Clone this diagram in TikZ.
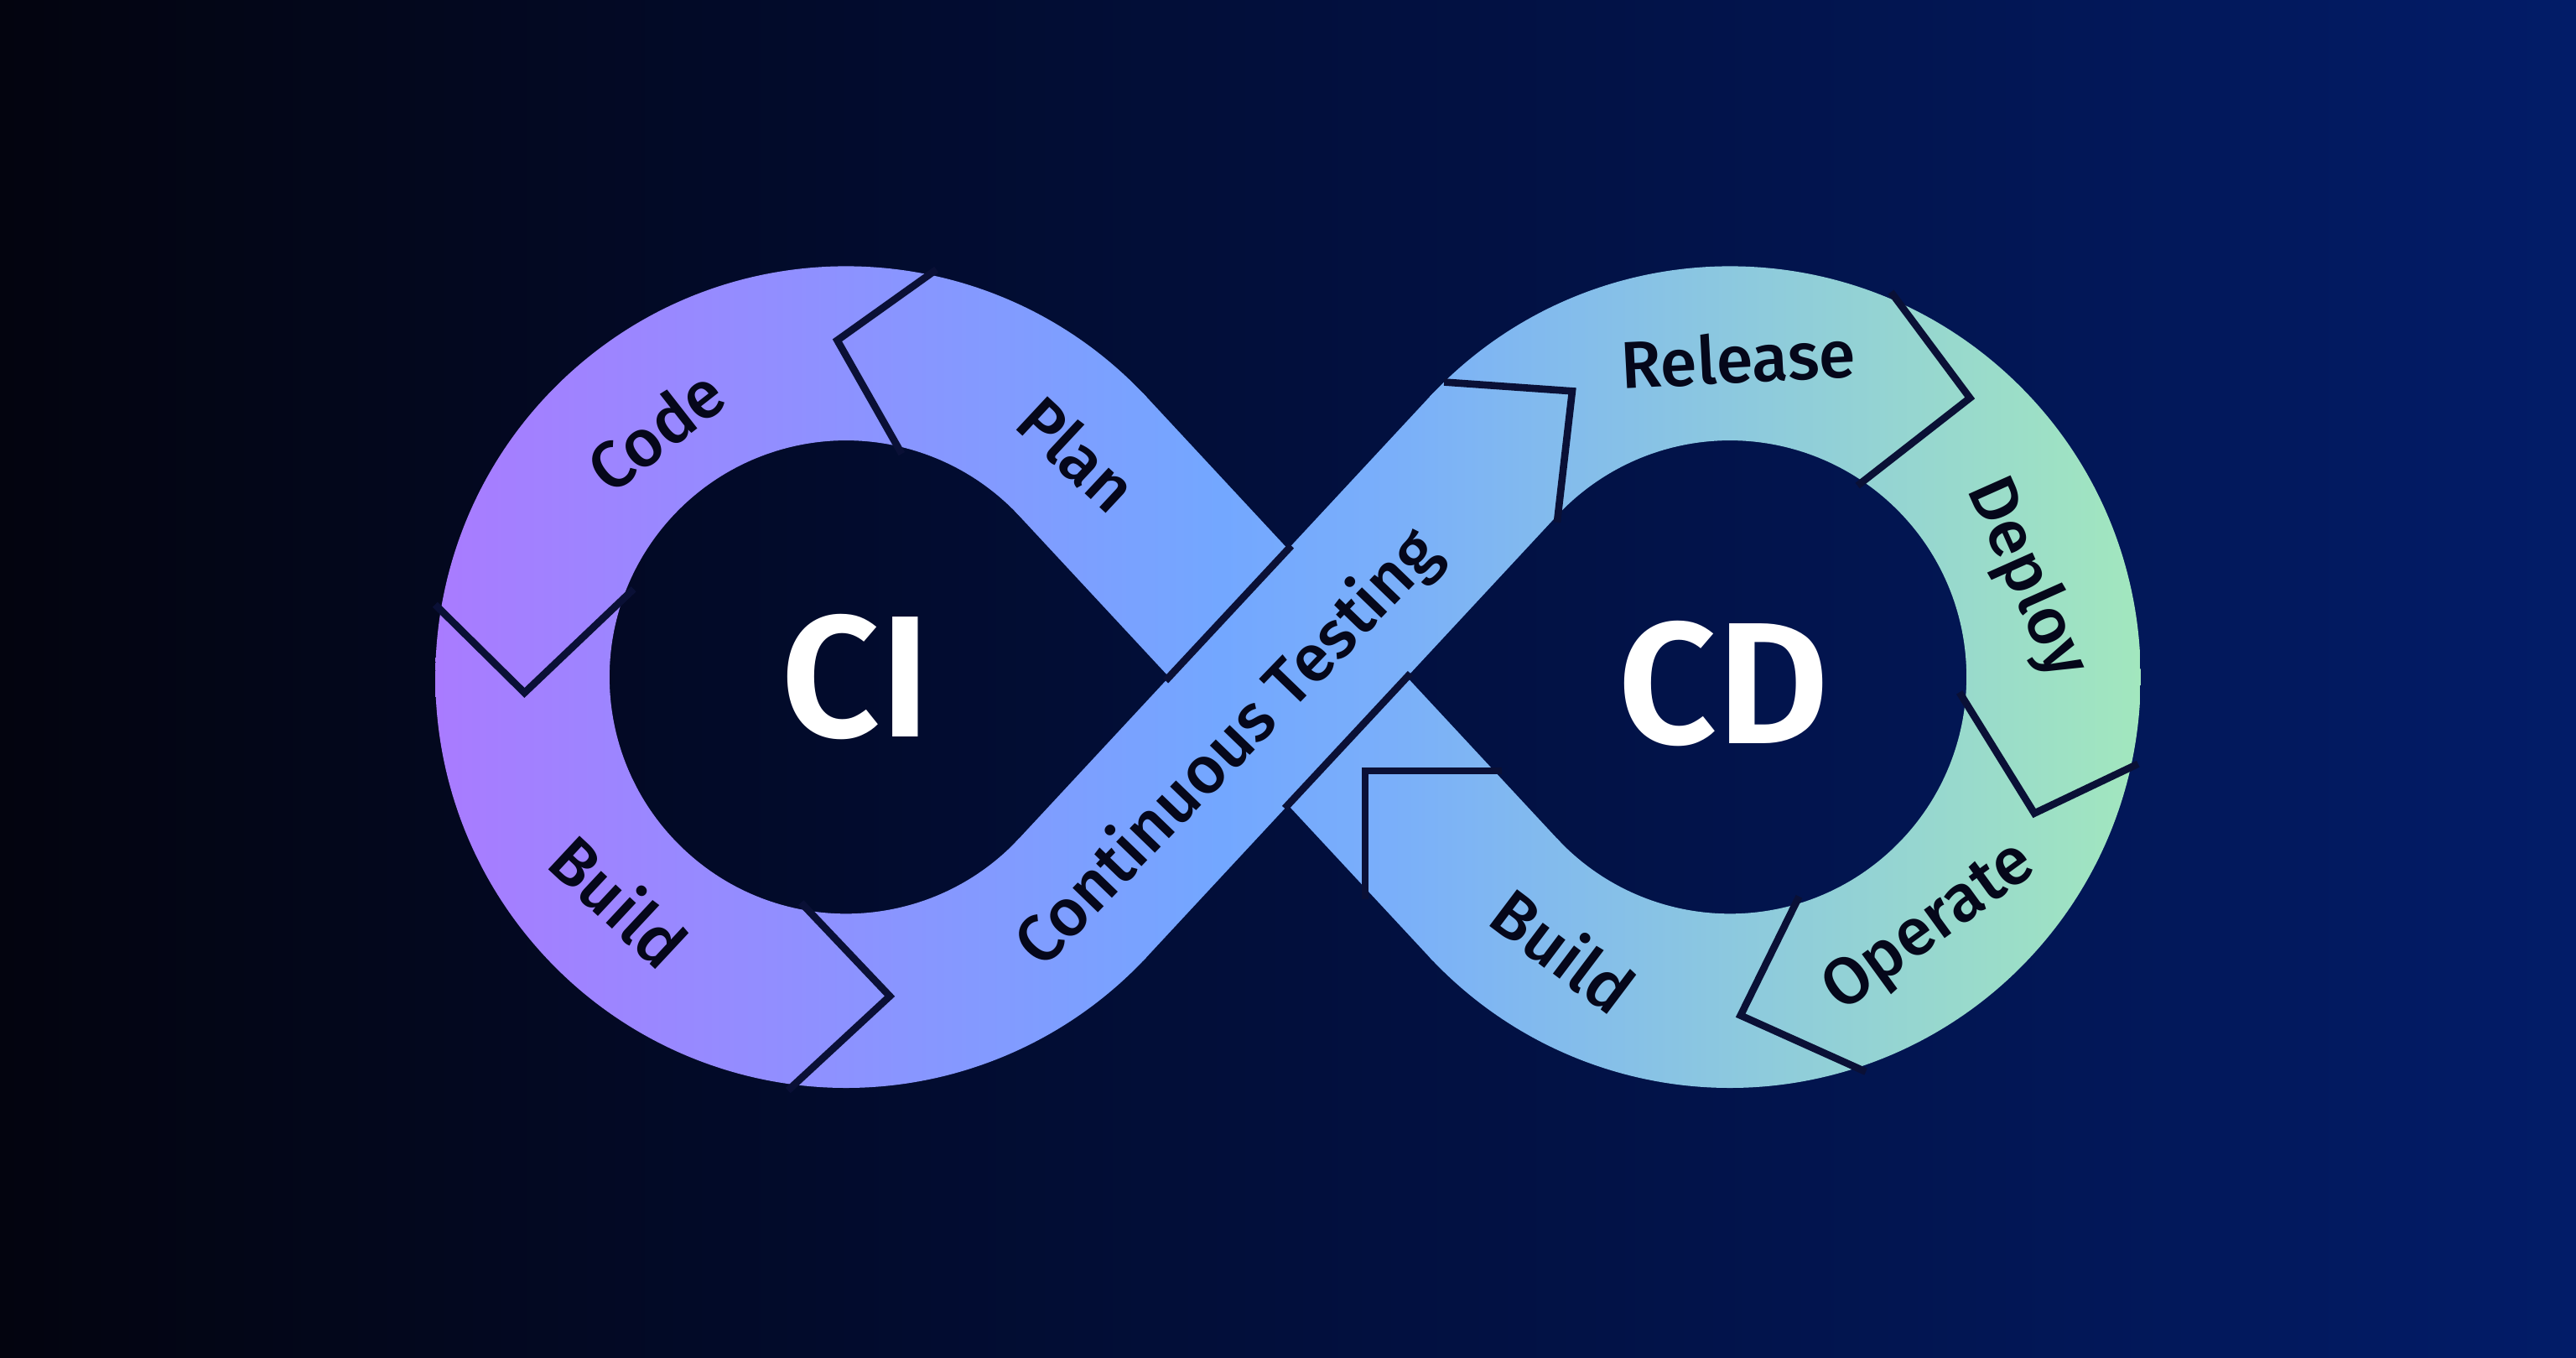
\documentclass[tikz,border=0pt]{standalone}
\usepackage{fontspec}
\newfontfamily\labfont{Fira Sans Medium}
\newfontfamily\bigfont{Fira Sans SemiBold}
\usetikzlibrary{calc}
\definecolor{bgL}{HTML}{03040F}
\definecolor{bgM}{HTML}{020F3C}
\definecolor{bgR}{HTML}{021C68}
\definecolor{cP}{HTML}{A97BFF}
\definecolor{cB}{HTML}{73A7FF}
\definecolor{cBB}{HTML}{7AAFFA}
\definecolor{cG}{HTML}{A2E7BE}
\definecolor{sep}{HTML}{0A1036}
\definecolor{ink}{HTML}{05071A}
\pgfdeclarehorizontalshading{bgshade}{100bp}{color(0bp)=(bgL); color(25bp)=(bgL); color(50bp)=(bgM); color(75bp)=(bgR); color(100bp)=(bgR)}
\pgfdeclarehorizontalshading{bandshade}{100bp}{color(0bp)=(cP); color(25bp)=(cP); color(48bp)=(cB); color(53bp)=(cBB); color(75bp)=(cG); color(100bp)=(cG)}
\newcommand\bandfill[1]{\begin{scope}\clip #1; \shade[shading=bandshade] (265,162) rectangle (1303,662);\end{scope}}
\tikzset{
  sepline/.style={draw=sep, line width=2.5pt, line join=miter, line cap=butt},
  lab/.style={font=\labfont\fontsize{23}{27}\selectfont, text=ink, inner sep=0pt},
  big/.style={font=\bigfont\fontsize{60}{70}\selectfont, text=white, inner sep=0pt},
}
\begin{document}
\begin{tikzpicture}[x=0.02cm,y=-0.02cm]
\useasboundingbox (0,0) rectangle (1568,826);
\shade[shading=bgshade] (0,0) rectangle (1568,826);
\coordinate (L) at (515,412);
\coordinate (R) at (1053,412);
\coordinate (X) at (784,412);
% left loop
\bandfill{($(L)+(-43:250)$) arc[start angle=-43,end angle=-317,radius=250] -- ($(L)+(-317:144)$) arc[start angle=-317,end angle=-43,radius=144] -- cycle}
% right loop
\bandfill{($(R)+(223:250)$) arc[start angle=223,end angle=497,radius=250] -- ($(R)+(497:144)$) arc[start angle=497,end angle=223,radius=144] -- cycle}
% band Plan -> Build (right)
\bandfill{($(L)+(-43:250)+(227:3)$) -- ($(R)+(137:144)+(47:3)$) -- ($(R)+(137:250)+(47:3)$) -- ($(L)+(-43:144)+(227:3)$) -- cycle}
% band Continuous Testing
\bandfill{($(L)+(43:250)+(133:3)$) -- ($(R)+(223:144)+(-47:3)$) -- ($(R)+(223:250)+(-47:3)$) -- ($(L)+(43:144)+(133:3)$) -- cycle}
% separators
\draw[sepline] ($(L)+(-77.5:254)$) -- ($(L)+(-91.5:205)$) -- ($(L)+(-76:140)$);
\draw[sepline] ($(L)+(-170:254)$) -- ($(L)+(177.2:196)$) -- ($(L)+(-157.5:140)$);
\draw[sepline] ($(L)+(98:254)$) -- ($(L)+(82.2:196)$) -- ($(L)+(101.3:140)$);
\coordinate (ctA) at (879,232.5);
\coordinate (ctB) at (957,238);
\coordinate (ctC) at (947.8,317.8);
\draw[sepline] (ctA) -- (ctB) -- (ctC);
\draw[sepline] ($(R)+(-67.3:254)$) -- ($(R)+(-49.3:224)$) -- ($(R)+(-56.3:140)$);
\draw[sepline] ($(R)+(12:254)$) -- ($(R)+(24.1:203)$) -- ($(R)+(3.8:140)$);
\draw[sepline] ($(R)+(71:254)$) -- ($(R)+(88.2:206)$) -- ($(R)+(72.5:140)$);
\coordinate (brA) at (831,547);
\coordinate (brB) at (831,469);
\coordinate (brC) at (914,469);
\draw[sepline] (brA) -- (brB) -- (brC);
\coordinate (xL) at (709.5,414.2);
\coordinate (xT) at (786,332.1);
\coordinate (xB) at (782,491.9);
\coordinate (xR) at (858.5,409.8);
\draw[sepline] (xL) -- (xT);
\draw[sepline] (xB) -- (xR);
% labels
\node[lab, rotate=38] (code) at (399,262) {Code};
\node[lab, rotate=-43] (plan) at (656,276) {Plan};
\node[lab, rotate=-43] (buildl) at (377,548) {Build};
\node[lab, rotate=46] (ct) at (748,456) {Continuous Testing};
\node[lab, rotate=3] (release) at (1058,218) {Release};
\node[lab, rotate=-66] (deploy) at (1233,352) {Deploy};
\node[lab, rotate=36] (operate) at (1175,565) {Operate};
\node[lab, rotate=-37] (buildr) at (952,578) {Build};
\node[big] (ci) at (521,412) {CI};
\node[big] (cd) at (1049,416) {CD};
\end{tikzpicture}
\end{document}
